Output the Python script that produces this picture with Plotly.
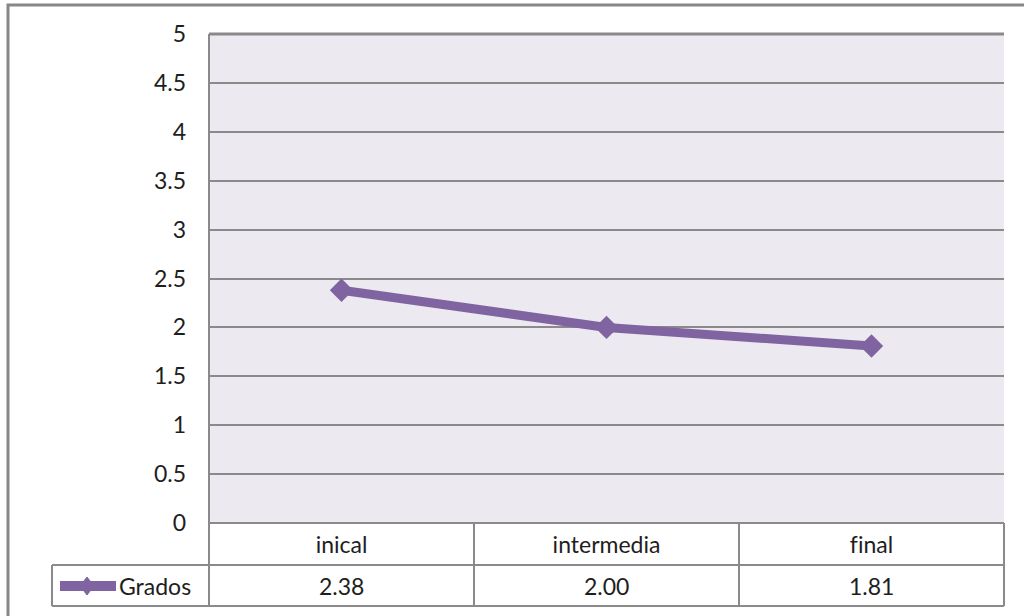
import plotly.graph_objects as go

# Data
categorias = ["inical", "intermedia", "final"]
grados = [2.38, 2.00, 1.81]
serie = "Grados"
y_ticks = [0, 0.5, 1, 1.5, 2, 2.5, 3, 3.5, 4, 4.5, 5]
y_ticklabels = ["0", "0.5", "1", "1.5", "2", "2.5", "3", "3.5", "4", "4.5", "5"]

# Layout geometry (pixels)
W, H = 1024, 616
PL, PR, PT, PB = 209, 1004, 34, 523   # plot area edges
ROW1, ROW2 = 565, 606                 # data-table row boundaries
LEG_X = 52                            # left edge of the legend cell

PURPLE = "#8064A2"
GRID = "#8a8a8a"
FONT = "Lato"
FS = 23
TXT = "#1e1e1e"


def px(x):
    return (x - PL) / (PR - PL)


def py(y):
    return (PB - y) / (PB - PT)


def no_liga(s):
    # keep "fi" as two separate glyphs
    return s.replace("fi", "f\u200ci")


fig = go.Figure()
fig.add_trace(go.Scatter(
    x=list(range(len(categorias))),
    y=grados,
    mode="lines+markers",
    name=serie,
    line=dict(color=PURPLE, width=9),
    marker=dict(symbol="diamond", size=18, color=PURPLE),
    showlegend=False,
    cliponaxis=False,
))

shapes = []


def hline(x0, x1, y, w=2):
    shapes.append(dict(type="line", xref="paper", yref="paper",
                       x0=px(x0), x1=px(x1), y0=py(y), y1=py(y),
                       line=dict(color=GRID, width=w)))


def vline(x, y0, y1, w=2):
    shapes.append(dict(type="line", xref="paper", yref="paper",
                       x0=px(x), x1=px(x), y0=py(y0), y1=py(y1),
                       line=dict(color=GRID, width=w)))


# Data table grid under the plot
col_w = (PR - PL) / len(categorias)
hline(PL, PR, PB)
hline(LEG_X, PR, ROW1)
hline(LEG_X, PR, ROW2)
vline(PL, PT, ROW2)
vline(LEG_X, ROW1, ROW2)
for i in range(1, len(categorias)):
    vline(PL + i * col_w, PB, ROW2)
vline(PR, PB, ROW2)
# top edge of the plot area
hline(PL, PR, PT, w=3)

# Outer chart frame
shapes.append(dict(type="rect", xref="paper", yref="paper",
                   x0=px(8), x1=px(W + 20), y0=py(5), y1=py(H + 20),
                   line=dict(color="#878787", width=3), layer="below"))

# Legend key: thick line with a diamond
ly = (ROW1 + ROW2) / 2 + 0.5
shapes.append(dict(type="line", xref="paper", yref="paper",
                   x0=px(60), x1=px(116), y0=py(ly), y1=py(ly),
                   line=dict(color=PURPLE, width=10)))
dx, dy = 7, 9
cx = 87
shapes.append(dict(type="path", xref="paper", yref="paper",
                   path=(f"M {px(cx - dx)},{py(ly)} L {px(cx)},{py(ly - dy)} "
                         f"L {px(cx + dx)},{py(ly)} L {px(cx)},{py(ly + dy)} Z"),
                   fillcolor=PURPLE, line=dict(color=PURPLE, width=1)))

annotations = []
for i, v in enumerate(grados):
    annotations.append(dict(x=i, y=py(ly), xref="x", yref="paper",
                            text=f"{v:.2f}", showarrow=False,
                            xanchor="center", yanchor="middle",
                            font=dict(family=FONT, size=FS, color=TXT)))
annotations.append(dict(x=px(117), y=py(ly), xref="paper", yref="paper",
                        text=serie, showarrow=False,
                        xanchor="left", yanchor="middle",
                        font=dict(family=FONT, size=FS, color=TXT)))

fig.update_layout(
    width=W, height=H,
    margin=dict(l=PL, r=W - PR, t=PT, b=H - PB),
    paper_bgcolor="white",
    plot_bgcolor="#ECEAF0",
    font=dict(family=FONT, size=FS, color=TXT),
    shapes=shapes,
    annotations=annotations,
    xaxis=dict(
        range=[-0.5, len(categorias) - 0.5],
        tickmode="array",
        tickvals=list(range(len(categorias))),
        ticktext=[no_liga(c) for c in categorias],
        showgrid=False, zeroline=False, showline=False,
        ticks="", ticklabelstandoff=6,
        tickfont=dict(family=FONT, size=FS, color=TXT),
    ),
    yaxis=dict(
        range=[0, 5],
        tickmode="array",
        tickvals=y_ticks,
        ticktext=y_ticklabels,
        showgrid=True, gridcolor=GRID, gridwidth=2,
        zeroline=False, showline=False,
        ticks="", ticklabelstandoff=22,
        tickfont=dict(family=FONT, size=FS, color=TXT),
    ),
)

fig.write_html("out.html")
